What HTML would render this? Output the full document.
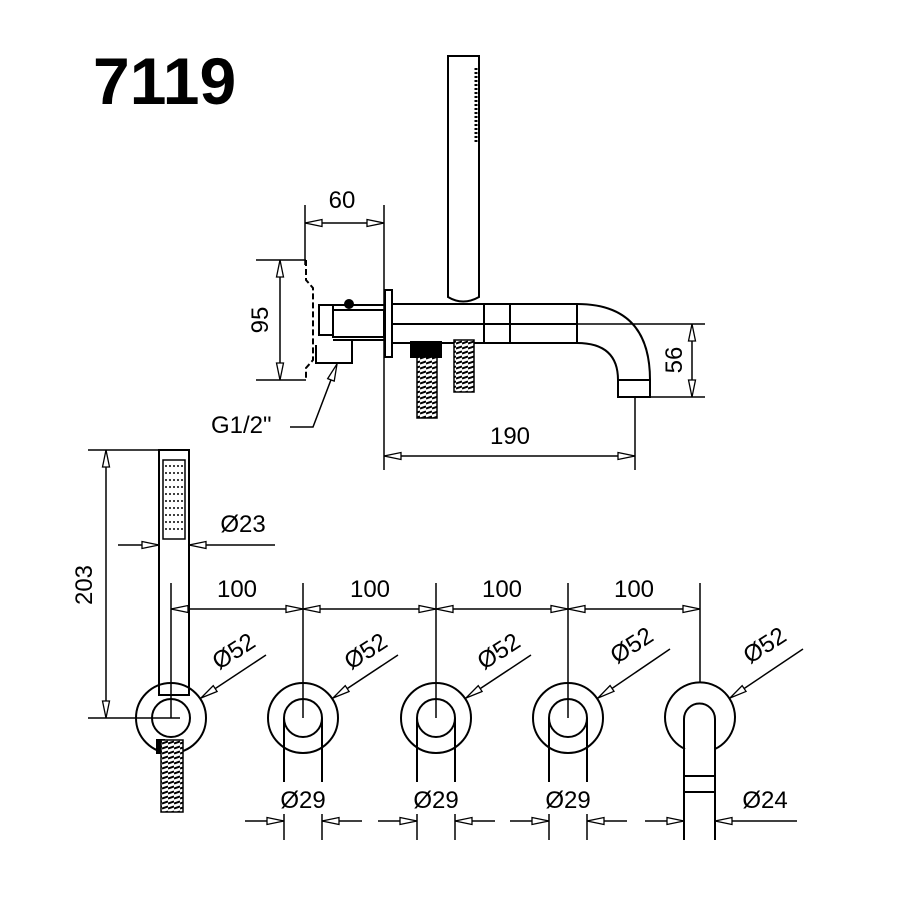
<!DOCTYPE html>
<html><head><meta charset="utf-8"><style>
html,body{margin:0;padding:0;background:#fff;}
svg{display:block;}
text{font-family:"Liberation Sans",sans-serif;fill:#000;}
</style></head><body>
<svg width="900" height="900" viewBox="0 0 900 900" xmlns="http://www.w3.org/2000/svg">
<defs>
<marker id="a" markerWidth="20" markerHeight="10" refX="18" refY="5" orient="auto-start-reverse" markerUnits="userSpaceOnUse">
<path d="M1,1.5 L18,5 L1,8.5 Z" fill="#fff" stroke="#000" stroke-width="1.3"/>
</marker>
<pattern id="h" width="6" height="5" patternUnits="userSpaceOnUse">
<rect width="6" height="5" fill="#fff"/>
<path d="M0,3.5 L6,1.5" stroke="#000" stroke-width="2"/>
</pattern>
</defs>
<text x="93" y="104" font-size="66" font-weight="bold">7119</text>
<g stroke="#000" stroke-width="2" fill="none">
<path d="M448,56 L479,56 L479,297 Q463,306 448,297 Z"/>
<line x1="476" y1="68" x2="476" y2="142" stroke-dasharray="2,2" stroke-width="3"/>
<rect x="385" y="290" width="7" height="67"/>
<path d="M392,304 L577,304 Q650,304 650,380 L650,397 L618,397 L618,380 Q618,343 577,343 L392,343"/>
<line x1="392" y1="324" x2="577" y2="324"/>
<rect x="484" y="304" width="26" height="39"/>
<line x1="577" y1="304" x2="577" y2="343"/>
<line x1="618" y1="380" x2="650" y2="380"/>
<path d="M306,260 L306,280 L313,288 L313,360 L306,368 L306,380" stroke-dasharray="6,3"/>
<rect x="333" y="310" width="51" height="27"/>
<path d="M319,305 L333,305 L333,335 L319,335 Z"/>
<path d="M316,345 L316,363 L352,363 L352,340"/>
<line x1="333" y1="305" x2="384" y2="305"/><line x1="333" y1="340" x2="384" y2="340"/>
<circle cx="349" cy="304" r="4" fill="#000"/>
<rect x="411" y="342" width="30" height="15" fill="#000"/>
<rect x="417" y="357" width="20" height="61" fill="url(#h)" stroke-width="1.5"/>
<rect x="454" y="340" width="20" height="52" fill="url(#h)" stroke-width="1.5"/>
</g>
<g stroke="#000" stroke-width="1.5" fill="none">
<line x1="305" y1="205" x2="305" y2="265"/><line x1="384" y1="205" x2="384" y2="470"/>
<line x1="305" y1="223" x2="384" y2="223" marker-start="url(#a)" marker-end="url(#a)"/>
<line x1="256" y1="260" x2="306" y2="260"/><line x1="256" y1="380" x2="306" y2="380"/>
<line x1="280" y1="260" x2="280" y2="380" marker-start="url(#a)" marker-end="url(#a)"/>
<line x1="577" y1="324" x2="705" y2="324"/><line x1="650" y1="397" x2="705" y2="397"/>
<line x1="692" y1="324" x2="692" y2="397" marker-start="url(#a)" marker-end="url(#a)"/>
<line x1="635" y1="397" x2="635" y2="470"/>
<line x1="384" y1="456" x2="635" y2="456" marker-start="url(#a)" marker-end="url(#a)"/>
<path d="M290,427 L313,427 L337,364" marker-end="url(#a)"/>
</g>
<g font-size="24">
<text x="342" y="208" text-anchor="middle">60</text>
<text transform="translate(268,320) rotate(-90)" text-anchor="middle">95</text>
<text transform="translate(682,360) rotate(-90)" text-anchor="middle">56</text>
<text x="510" y="444" text-anchor="middle">190</text>
<text x="211" y="433">G1/2"</text>
</g>

<g stroke="#000" stroke-width="2" fill="none">
<rect x="159" y="450" width="30" height="245"/>
<rect x="163" y="460" width="22" height="79" stroke-width="1.5"/>
<path d="M165,466 L183,466 M165,473 L183,473 M165,480 L183,480 M165,487 L183,487 M165,494 L183,494 M165,501 L183,501 M165,508 L183,508 M165,515 L183,515 M165,522 L183,522 M165,529 L183,529" stroke-dasharray="2,2" stroke-width="1.5"/>
<circle cx="171" cy="718" r="35"/>
<circle cx="171" cy="718" r="19" fill="#fff"/>
<line x1="159" y1="695" x2="189" y2="695"/>
<rect x="157" y="740" width="7" height="13" fill="#000"/>
<rect x="161" y="740" width="22" height="72" fill="url(#h)" stroke-width="1.5"/>
<g id="v"><circle cx="303" cy="718" r="35"/><circle cx="303" cy="718" r="19"/><line x1="284" y1="718" x2="284" y2="782"/><line x1="322" y1="718" x2="322" y2="782"/></g>
<use href="#v" x="133"/><use href="#v" x="265"/>
<path d="M685,749 A35,35 0 1 1 715,749"/>
<path d="M684,840 L684,719 A15.5,15.5 0 0 1 715,719 L715,840"/>
<line x1="684" y1="776" x2="715" y2="776"/><line x1="684" y1="792" x2="715" y2="792"/>
</g>
<g stroke="#000" stroke-width="1.5" fill="none">
<line x1="88" y1="450" x2="189" y2="450"/><line x1="88" y1="718" x2="180" y2="718"/>
<line x1="106" y1="450" x2="106" y2="718" marker-start="url(#a)" marker-end="url(#a)"/>
<line x1="118" y1="545" x2="159" y2="545" marker-end="url(#a)"/>
<line x1="275" y1="545" x2="189" y2="545" marker-end="url(#a)"/>
<line x1="171" y1="583" x2="171" y2="718"/>
<line x1="303" y1="583" x2="303" y2="718"/>
<line x1="436" y1="583" x2="436" y2="718"/>
<line x1="568" y1="583" x2="568" y2="718"/>
<line x1="700" y1="583" x2="700" y2="683"/>
<line x1="171" y1="609" x2="303" y2="609" marker-start="url(#a)" marker-end="url(#a)"/>
<line x1="303" y1="609" x2="436" y2="609" marker-start="url(#a)" marker-end="url(#a)"/>
<line x1="436" y1="609" x2="568" y2="609" marker-start="url(#a)" marker-end="url(#a)"/>
<line x1="568" y1="609" x2="700" y2="609" marker-start="url(#a)" marker-end="url(#a)"/>
<line x1="266" y1="655" x2="201" y2="698" marker-end="url(#a)"/>
<line x1="398" y1="655" x2="333" y2="698" marker-end="url(#a)"/>
<line x1="531" y1="655" x2="466" y2="698" marker-end="url(#a)"/>
<line x1="670" y1="649" x2="598" y2="698" marker-end="url(#a)"/>
<line x1="803" y1="649" x2="730" y2="698" marker-end="url(#a)"/>
<line x1="284" y1="814" x2="284" y2="840"/><line x1="322" y1="814" x2="322" y2="840"/>
<line x1="417" y1="814" x2="417" y2="840"/><line x1="455" y1="814" x2="455" y2="840"/>
<line x1="549" y1="814" x2="549" y2="840"/><line x1="587" y1="814" x2="587" y2="840"/>
<line x1="245" y1="821" x2="284" y2="821" marker-end="url(#a)"/><line x1="362" y1="821" x2="322" y2="821" marker-end="url(#a)"/>
<line x1="378" y1="821" x2="417" y2="821" marker-end="url(#a)"/><line x1="495" y1="821" x2="455" y2="821" marker-end="url(#a)"/>
<line x1="510" y1="821" x2="549" y2="821" marker-end="url(#a)"/><line x1="627" y1="821" x2="587" y2="821" marker-end="url(#a)"/>
<line x1="645" y1="821" x2="684" y2="821" marker-end="url(#a)"/><line x1="797" y1="821" x2="715" y2="821" marker-end="url(#a)"/>
</g>
<g font-size="24" text-anchor="middle">
<text transform="translate(92,585) rotate(-90)">203</text>
<text x="243" y="532">Ø23</text>
<text x="237" y="597">100</text><text x="370" y="597">100</text><text x="502" y="597">100</text><text x="634" y="597">100</text>
<text transform="translate(238,658) rotate(-33)">Ø52</text>
<text transform="translate(370,658) rotate(-33)">Ø52</text>
<text transform="translate(503,658) rotate(-33)">Ø52</text>
<text transform="translate(636,652) rotate(-33)">Ø52</text>
<text transform="translate(769,652) rotate(-33)">Ø52</text>
<text x="303" y="808">Ø29</text><text x="436" y="808">Ø29</text><text x="568" y="808">Ø29</text>
<text x="765" y="808">Ø24</text>
</g>
</svg>
</body></html>
